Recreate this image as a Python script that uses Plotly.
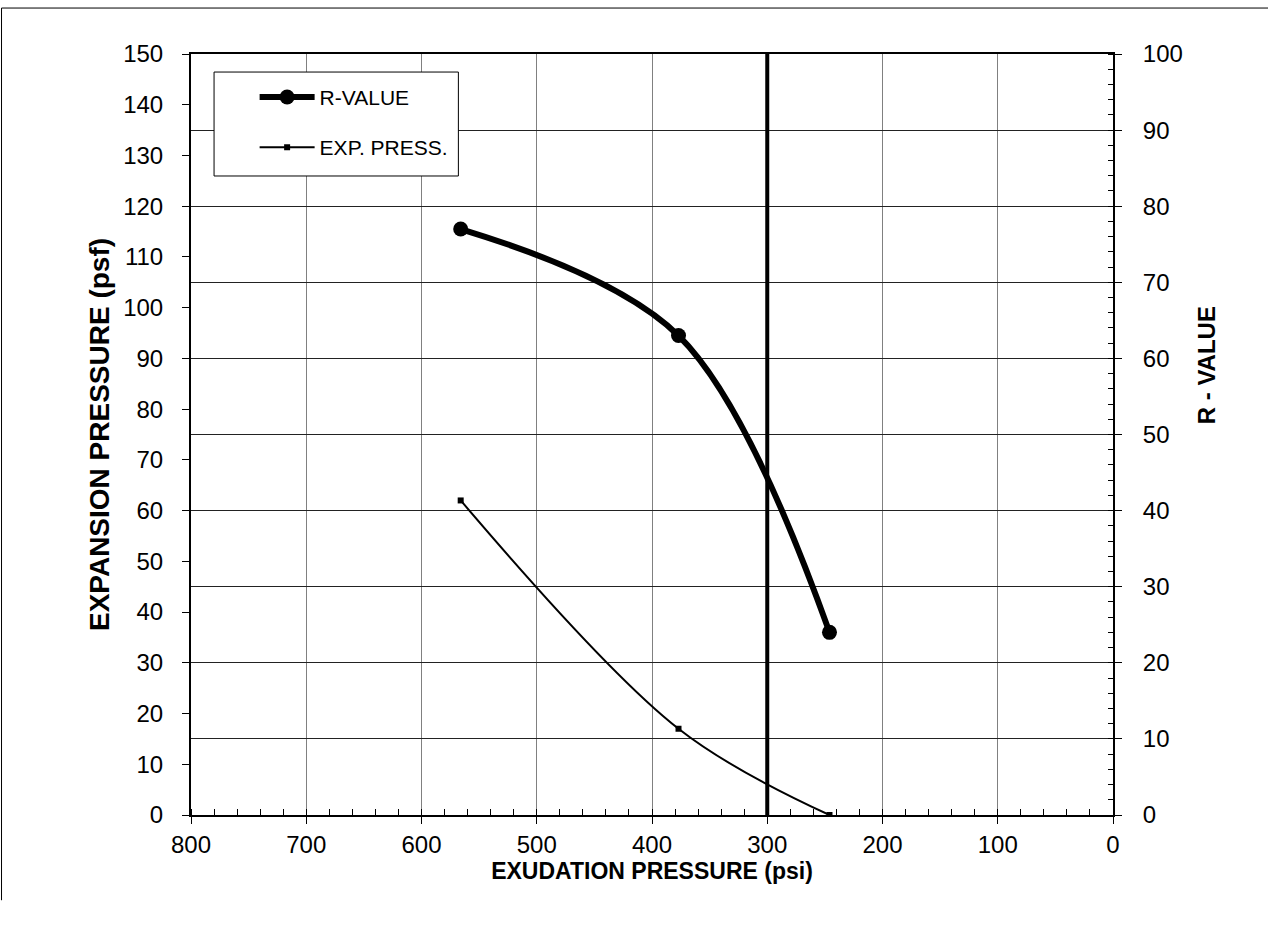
import plotly.graph_objects as go

# ---- data ----
exudation_psi = [566, 377, 246]          # EXUDATION PRESSURE (psi)
r_value = [77, 63, 24]                   # R - VALUE (right axis)
expansion_psf = [62, 17, 0]              # EXPANSION PRESSURE (psf) (left axis)
exudation_limit = 300                    # reference exudation line (psi)

x_ticks = [800, 700, 600, 500, 400, 300, 200, 100, 0]
left_ticks = list(range(0, 151, 10))
right_ticks = list(range(0, 101, 10))

FONT = "Liberation Sans, Arial, sans-serif"

fig = go.Figure()

fig.add_trace(go.Scatter(
    x=exudation_psi, y=r_value, name="R-VALUE", yaxis="y2",
    mode="lines+markers", line=dict(color="black", width=6, shape="spline", smoothing=1),
    marker=dict(symbol="circle", size=15, color="black"),
    legendgroup="r",
))
fig.add_trace(go.Scatter(
    x=exudation_psi, y=expansion_psf, name="EXP. PRESS.", yaxis="y",
    mode="lines+markers", line=dict(color="black", width=2, shape="spline", smoothing=1),
    marker=dict(symbol="square", size=6, color="black"),
    legendgroup="e",
))

fig.add_vline(x=exudation_limit, line=dict(color="black", width=4), layer="above")

# legend frame
fig.add_shape(type="rect", xref="paper", yref="paper",
              x0=0.025, x1=0.29, y0=0.8397, y1=0.9763,
              fillcolor="white", line=dict(color="black", width=1), layer="above")

# outer frame (top and left edges visible in the reference)
fig.add_shape(type="line", xref="paper", yref="paper",
              x0=-0.2055, x1=1.2, y0=1.0604, y1=1.0604, line=dict(color="black", width=1))
fig.add_shape(type="line", xref="paper", yref="paper",
              x0=-0.2055, x1=-0.2055, y0=1.0604, y1=-0.112, line=dict(color="black", width=1))

# right axis title
fig.add_annotation(text="<b>R - VALUE</b>", xref="paper", yref="paper",
                   x=1.1009, y=0.591, textangle=-90, showarrow=False,
                   font=dict(family=FONT, size=24, color="black"),
                   xanchor="center", yanchor="middle")

fig.update_layout(
    width=1268, height=933,
    margin=dict(l=191, r=155, t=54, b=118),
    paper_bgcolor="white", plot_bgcolor="white",
    font=dict(family=FONT, color="black", size=24),
    showlegend=True,
    legend=dict(
        x=0.069, y=0.970, xanchor="left", yanchor="top",
        bgcolor="rgba(0,0,0,0)", borderwidth=0,
        font=dict(family=FONT, size=21, color="black"),
        tracegroupgap=20, itemwidth=55,
    ),
    xaxis=dict(
        range=[800, 0], tickvals=x_ticks, ticktext=[str(v) for v in x_ticks],
        showgrid=True, gridcolor="#808080", gridwidth=1,
        showline=True, linecolor="black", linewidth=2, mirror=True,
        ticks="outside", ticklen=7, tickcolor="black", tickwidth=1,
        minor=dict(dtick=20, ticks="inside", ticklen=6, tickcolor="black", showgrid=False),
        zeroline=False,
        tickfont=dict(size=24), ticklabelstandoff=0,
        title=dict(text="<b>EXUDATION PRESSURE (psi)</b>", font=dict(size=23), standoff=0),
    ),
    yaxis=dict(
        range=[0, 150], tickvals=left_ticks,
        showgrid=False, zeroline=False,
        showline=True, linecolor="black", linewidth=2,
        ticks="outside", ticklen=7, tickcolor="black", tickwidth=1,
        tickfont=dict(size=24), ticklabelstandoff=14,
        title=dict(text="<b>EXPANSION PRESSURE (psf)</b>", font=dict(size=28), standoff=5),
    ),
    yaxis2=dict(
        range=[0, 100], tickvals=right_ticks, overlaying="y", side="right",
        showgrid=True, gridcolor="#222222", gridwidth=1, zeroline=False,
        showline=True, linecolor="black", linewidth=2,
        ticks="outside", ticklen=7, tickcolor="black", tickwidth=1,
        minor=dict(dtick=2, ticks="inside", ticklen=5, tickcolor="black", showgrid=False),
        tickfont=dict(size=24), ticklabelstandoff=16,
    ),
)

fig.write_html("out.html", config={"displayModeBar": False},
               post_script="document.body.style.margin='0px';")
